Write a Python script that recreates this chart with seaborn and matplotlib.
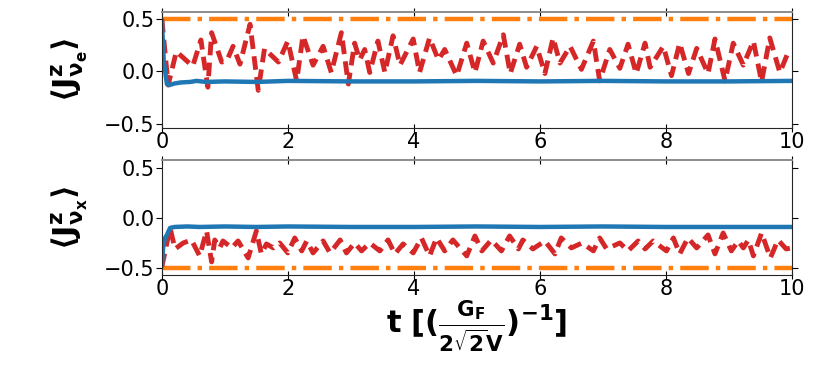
import numpy as np
import matplotlib
matplotlib.use("Agg")
import matplotlib.pyplot as plt
import seaborn as sns

# --- data ---
t_blue_e = [0, 0.03, 0.08, 0.12, 0.2, 0.3, 0.45, 0.55, 0.7, 1.0, 1.5, 2, 3, 4, 5, 6, 7, 8, 9, 10]
blue_e = [0.49, 0.10, -0.12, -0.13, -0.115, -0.105, -0.10, -0.09, -0.10, -0.095, -0.10,
          -0.09, -0.095, -0.095, -0.09, -0.095, -0.09, -0.095, -0.095, -0.09]

t_red_e = [0, 0.1, 0.23, 0.49, 0.62, 0.73, 0.79, 0.95, 1.03, 1.13, 1.24, 1.40, 1.53, 1.63,
           1.71, 1.85, 2.00, 2.14, 2.24, 2.40, 2.56, 2.69, 2.85, 2.96, 3.06, 3.14, 3.22,
           3.30, 3.43, 3.54, 3.67, 3.78, 3.99, 4.09, 4.25, 4.39, 4.49, 4.68, 4.84, 4.97,
           5.10, 5.26, 5.42, 5.53, 5.68, 5.79, 5.95, 6.08, 6.21, 6.32, 6.48, 6.66, 6.85,
           6.95, 7.11, 7.27, 7.40, 7.53, 7.67, 7.75, 7.96, 8.09, 8.22, 8.36, 8.49, 8.67,
           8.78, 8.94, 9.07, 9.23, 9.39, 9.52, 9.65, 9.81, 9.94, 10.0]
red_e = [0.50, -0.13, 0.19, 0.05, 0.30, -0.15, 0.37, 0.09, 0.10, 0.24, 0.07, 0.45, -0.18,
         0.22, 0.17, 0.09, 0.29, -0.09, 0.34, 0.06, 0.24, -0.01, 0.37, -0.12, 0.27, 0.11,
         0.21, -0.01, 0.29, -0.01, 0.34, 0.06, 0.31, -0.01, 0.32, 0.11, 0.21, -0.04, 0.27,
         -0.01, 0.29, 0.08, 0.35, -0.02, 0.26, 0.04, 0.24, -0.02, 0.32, 0.08, 0.24, 0.02,
         0.29, -0.09, 0.21, 0.03, 0.26, -0.02, 0.27, 0.04, 0.24, -0.04, 0.27, -0.02, 0.22,
         -0.02, 0.31, -0.09, 0.27, 0.06, 0.29, -0.10, 0.32, -0.01, 0.18, 0.19]

t_blue_x = [0, 0.02, 0.05, 0.08, 0.13, 0.2, 0.4, 0.6, 1.0, 1.5, 2, 3, 4, 5, 6, 7, 8, 9, 10]
blue_x = [-0.48, -0.30, -0.20, -0.17, -0.10, -0.09, -0.085, -0.09, -0.085, -0.09, -0.085,
          -0.09, -0.09, -0.085, -0.09, -0.085, -0.09, -0.09, -0.09]

t_red_x = [0, 0.13, 0.21, 0.34, 0.47, 0.60, 0.71, 0.79, 0.84, 0.92, 0.97, 1.11, 1.21, 1.37,
           1.50, 1.58, 1.66, 1.77, 1.87, 2.00, 2.11, 2.22, 2.30, 2.40, 2.56, 2.67, 2.83,
           2.93, 3.06, 3.17, 3.30, 3.46, 3.59, 3.70, 3.83, 3.99, 4.12, 4.25, 4.36, 4.49,
           4.62, 4.84, 4.97, 5.08, 5.23, 5.39, 5.52, 5.66, 5.73, 5.89, 6.08, 6.24, 6.34,
           6.50, 6.67, 6.85, 6.95, 7.06, 7.27, 7.40, 7.56, 7.67, 7.80, 8.01, 8.12, 8.22,
           8.35, 8.49, 8.67, 8.78, 8.91, 9.04, 9.15, 9.23, 9.31, 9.39, 9.52, 9.66, 9.78,
           9.91, 10.0]
red_x = [-0.49, -0.10, -0.31, -0.25, -0.22, -0.38, -0.13, -0.44, -0.22, -0.30, -0.23, -0.30,
         -0.23, -0.40, -0.13, -0.36, -0.26, -0.30, -0.25, -0.35, -0.20, -0.33, -0.23, -0.35,
         -0.23, -0.35, -0.22, -0.35, -0.25, -0.33, -0.25, -0.33, -0.22, -0.36, -0.26, -0.35,
         -0.20, -0.38, -0.20, -0.33, -0.22, -0.38, -0.18, -0.33, -0.22, -0.33, -0.18, -0.31,
         -0.22, -0.31, -0.23, -0.36, -0.20, -0.30, -0.25, -0.33, -0.20, -0.31, -0.25, -0.33,
         -0.23, -0.31, -0.23, -0.33, -0.20, -0.36, -0.20, -0.30, -0.17, -0.36, -0.15, -0.33,
         -0.23, -0.30, -0.22, -0.38, -0.15, -0.40, -0.22, -0.31, -0.30]

t_const = [0, 10]
orange_e = [0.5, 0.5]
orange_x = [-0.5, -0.5]

sns.set_style("ticks")
plt.rcParams["font.family"] = ["DejaVu Sans"]
plt.rcParams["mathtext.fontset"] = "dejavusans"
plt.rcParams["mathtext.default"] = "bf"
plt.rcParams["text.color"] = "black"
plt.rcParams["axes.labelcolor"] = "black"
plt.rcParams["xtick.color"] = "black"
plt.rcParams["ytick.color"] = "black"

fig = plt.figure(figsize=(8.3, 3.74), dpi=100)
ax1 = fig.add_axes([0.195, 0.659, 0.759, 0.308])
ax2 = fig.add_axes([0.195, 0.265, 0.759, 0.307])

lw = 3.2
for ax, tb, b, tr, r, o in [(ax1, t_blue_e, blue_e, t_red_e, red_e, orange_e),
                            (ax2, t_blue_x, blue_x, t_red_x, red_x, orange_x)]:
    sns.lineplot(x=t_const, y=o, ax=ax, color="tab:orange", linestyle="-.", lw=lw)
    sns.lineplot(x=tr, y=r, ax=ax, color="tab:red", lw=lw + 0.3, dashes=False)
    ax.lines[-1].set_dashes((2.8, 1.5))
    sns.lineplot(x=tb, y=b, ax=ax, color="tab:blue", linestyle="-", lw=lw)
    ax.set_xlim(0, 10)
    ax.set_xticks([0, 2, 4, 6, 8, 10])
    ax.set_yticks([-0.5, 0.0, 0.5])
    ax.tick_params(axis="x", direction="inout", length=6, top=True, labelsize=15, pad=0)
    ax.tick_params(axis="y", direction="out", length=4, right=True, labelsize=15, pad=1)
    for side in ["left", "right", "bottom"]:
        ax.spines[side].set_color("0.15")
        ax.spines[side].set_visible(True)
    ax.spines["top"].set_visible(True)
    ax.spines["top"].set_color("0.55")
    ax.spines["top"].set_linewidth(1.4)

ax1.set_ylim(-0.535, 0.564)
ax2.set_ylim(-0.57, 0.58)

ax1.set_ylabel(r"$\langle J^{z}_{\nu_{e}}\rangle$", fontsize=22, labelpad=10)
ax2.set_ylabel(r"$\langle J^{z}_{\nu_{x}}\rangle$", fontsize=22, labelpad=10)
ax2.set_xlabel(r"$t\ [(\frac{G_F}{2\sqrt{2}V})^{-1}]$", fontsize=22, labelpad=-1)

fig.savefig("out.png", dpi=100)
